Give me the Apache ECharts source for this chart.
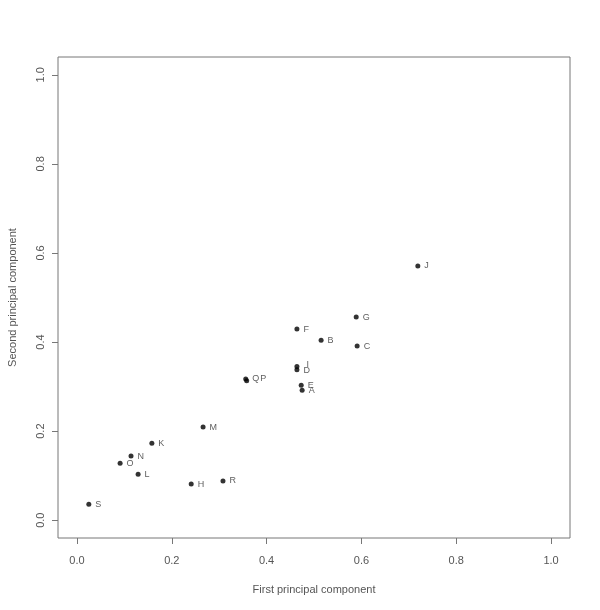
<!DOCTYPE html>
<html>
<head>
<meta charset="utf-8" />
<script src="https://cdn.jsdelivr.net/npm/echarts@6/dist/echarts.min.js" type="text/javascript"></script>
<title>PCA scatter</title>
</head>
<body style="margin:0;background:#fff;">
<div id="main" style="width: 600px;height:610px;"></div>
</body>
<script type="text/javascript">
// point names and the two components
var names = ['A', 'B', 'C', 'D', 'E', 'F', 'G', 'H', 'I', 'J', 'K', 'L', 'M', 'N', 'O', 'P', 'Q', 'R', 'S'];
var pc1 = [0.475, 0.515, 0.591, 0.464, 0.473, 0.464, 0.589, 0.241, 0.464, 0.719, 0.158, 0.129, 0.266, 0.114, 0.091, 0.358, 0.356, 0.308, 0.025];
var pc2 = [0.292, 0.404, 0.391, 0.338, 0.303, 0.429, 0.456, 0.081, 0.345, 0.571, 0.173, 0.103, 0.209, 0.144, 0.128, 0.313, 0.317, 0.088, 0.036];
var tickValues = [0, 0.2, 0.4, 0.6, 0.8, 1.0];

// labels that sit on top of each other get nudged a bit
var labelShift = { P: [7, -2], I: [3, -2], D: [0, 1] };

var dom = document.getElementById("main");
var myChart = echarts.init(dom);

var points = [];
for (var i = 0; i < names.length; i++) {
  var item = { name: names[i], value: [pc1[i], pc2[i]] };
  if (labelShift[names[i]]) {
    item.label = { offset: labelShift[names[i]] };
  }
  points.push(item);
}

var grey = '#777';
var textGrey = '#555';

var option = {
  backgroundColor: '#fff',
  animation: false,
  grid: {
    left: 58, right: 30, top: 57, bottom: 72,
    outerBoundsMode: 'none',
    containLabel: false,
    show: true,
    borderColor: grey,
    borderWidth: 1,
    backgroundColor: 'transparent'
  },
  xAxis: {
    type: 'value',
    min: -0.04,
    max: 1.04,
    name: 'First principal component',
    nameLocation: 'middle',
    nameGap: 46,
    nameTextStyle: { color: textGrey, fontSize: 11, fontFamily: 'Liberation Sans' },
    axisLine: { show: false, onZero: false },
    splitLine: { show: false },
    axisTick: { show: true, inside: false, length: 6, customValues: tickValues, lineStyle: { color: grey } },
    axisLabel: {
      customValues: tickValues,
      margin: 17,
      color: textGrey,
      fontSize: 11,
      fontFamily: 'Liberation Sans',
      formatter: function (v) { return v.toFixed(1); }
    }
  },
  yAxis: {
    type: 'value',
    min: -0.04,
    max: 1.04,
    name: 'Second principal component',
    nameLocation: 'middle',
    nameGap: 40,
    nameTextStyle: { color: textGrey, fontSize: 11, fontFamily: 'Liberation Sans' },
    axisLine: { show: false, onZero: false },
    splitLine: { show: false },
    axisTick: { show: true, inside: false, length: 6, customValues: tickValues, lineStyle: { color: grey } },
    axisLabel: {
      customValues: tickValues,
      rotate: 90,
      margin: 12,
      color: textGrey,
      fontSize: 11,
      fontFamily: 'Liberation Sans',
      formatter: function (v) { return v.toFixed(1); }
    }
  },
  series: [{
    type: 'scatter',
    symbol: 'circle',
    symbolSize: 5,
    itemStyle: { color: '#000' },
    label: {
      show: true,
      position: 'right',
      distance: 4,
      formatter: '{b}',
      color: '#333',
      fontSize: 9,
      fontFamily: 'Liberation Sans'
    },
    data: points
  }]
};
myChart.setOption(option);
</script>
</html>
